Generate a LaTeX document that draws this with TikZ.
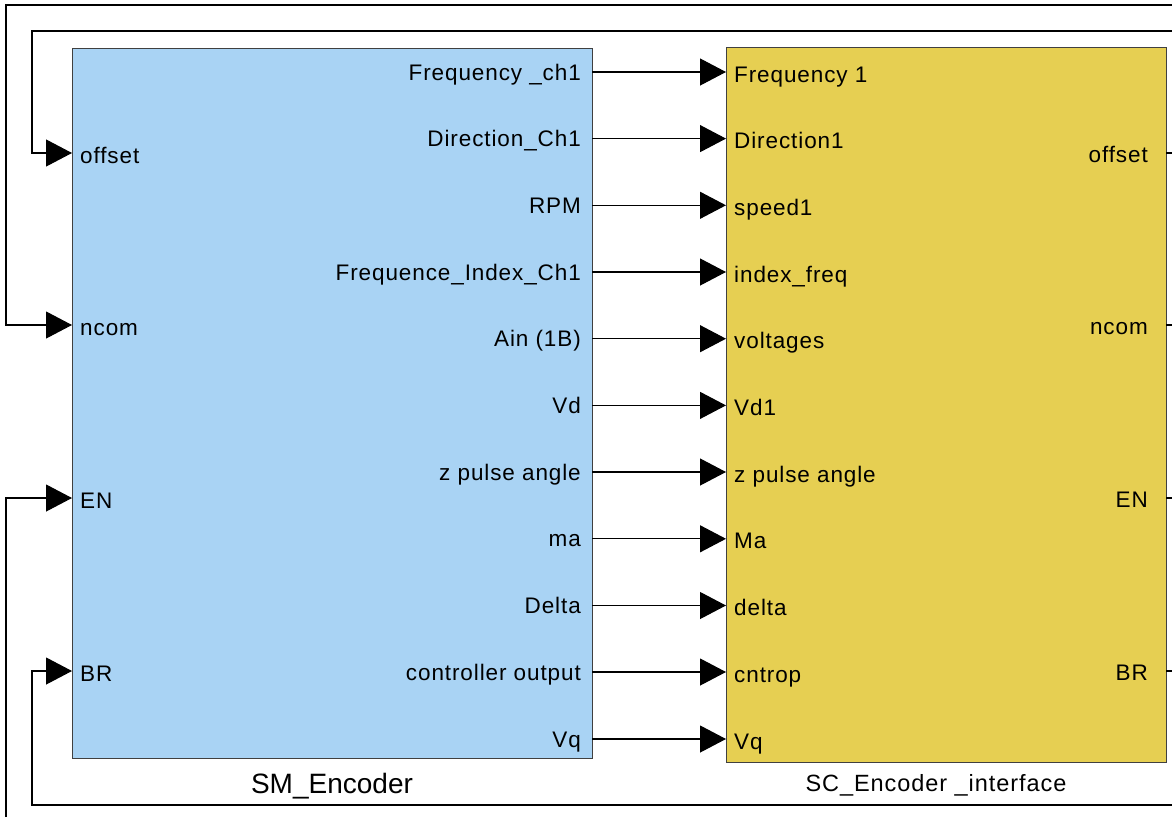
\documentclass[tikz,border=0pt]{standalone}
\usepackage{fontspec}
\setmainfont{Liberation Sans}
\newfontfamily\portfont{Liberation Sans}[LetterSpace=4]
\usetikzlibrary{arrows.meta}
\definecolor{smblue}{RGB}{169,211,244}
\definecolor{scyellow}{RGB}{230,207,82}
\begin{document}
\begin{tikzpicture}[x=1pt,y=-1pt,
  blk/.style={draw=black!75, line width=1pt, inner sep=0pt, outer sep=0pt, anchor=north west},
  wire/.style={line width=1.1pt, black},
  sig/.style={wire, -{Triangle[length=26pt,width=27pt]}},
  lbl/.style={font=\portfont\fontsize{22.5}{24}\selectfont, inner sep=0pt}]
\useasboundingbox (0,0) rectangle (1172,817);
% blocks
\node[blk, fill=smblue, minimum width=520pt, minimum height=710pt] (sm) at (72,48.5) {};
\node[blk, fill=scyellow, minimum width=440pt, minimum height=715pt] (sc) at (726,47.5) {};
% titles
\node[font=\fontsize{28}{30}\selectfont, inner sep=0pt] (smt) at (332,786) {SM\_Encoder};
\node[font=\portfont\fontsize{23.5}{25}\selectfont, inner sep=0pt] (sct) at (936,785) {SC\_Encoder \_interface};
% forward signals
\foreach \y/\a/\b [count=\i] in {
  72/{Frequency \_ch1}/{Frequency 1},
  138.6/{Direction\_Ch1}/{Direction1},
  205.3/{RPM}/{speed1},
  272/{Frequence\_Index\_Ch1}/{index\_freq},
  338.7/{Ain (1B)}/{voltages},
  405.4/{Vd}/{Vd1},
  472/{z pulse angle}/{z pulse angle},
  538.8/{ma}/{Ma},
  605.5/{Delta}/{delta},
  672/{controller output}/{cntrop},
  739/{Vq}/{Vq}} {
  \coordinate (o\i) at (592,\y);
  \coordinate (in\i) at (726,\y);
  \node[lbl, anchor=base east] (ol\i) at (581,{\y+8}) {\a};
  \node[lbl, anchor=base west] (il\i) at (734,{\y+10}) {\b};
  \draw[sig] (o\i) -- (in\i);
}
% feedback ports
\foreach \y/\n [count=\i] in {153/offset, 325/ncom, 498/EN, 671/BR} {
  \coordinate (smi\i) at (72,\y);
  \coordinate (sco\i) at (1166,\y);
  \coordinate (edge\i) at (1172,\y);
  \node[lbl, anchor=base west] (sil\i) at (80,{\y+10}) {\n};
  \node[lbl, anchor=base east] (sol\i) at (1148,{\y+9}) {\n};
  \draw[wire] (sco\i) -- (edge\i);
}
% loops
\coordinate (ta) at (1172,5);
\coordinate (ca) at (6,5);
\coordinate (tb) at (1172,31);
\coordinate (cb) at (32,31);
\coordinate (bc) at (6,817);
\coordinate (td) at (1172,805);
\coordinate (cd) at (32,805);
\draw[sig] (tb) -- (cb) |- (smi1);
\draw[sig] (ta) -- (ca) |- (smi2);
\draw[sig] (bc) |- (smi3);
\draw[sig] (td) -- (cd) |- (smi4);
\end{tikzpicture}
\end{document}
